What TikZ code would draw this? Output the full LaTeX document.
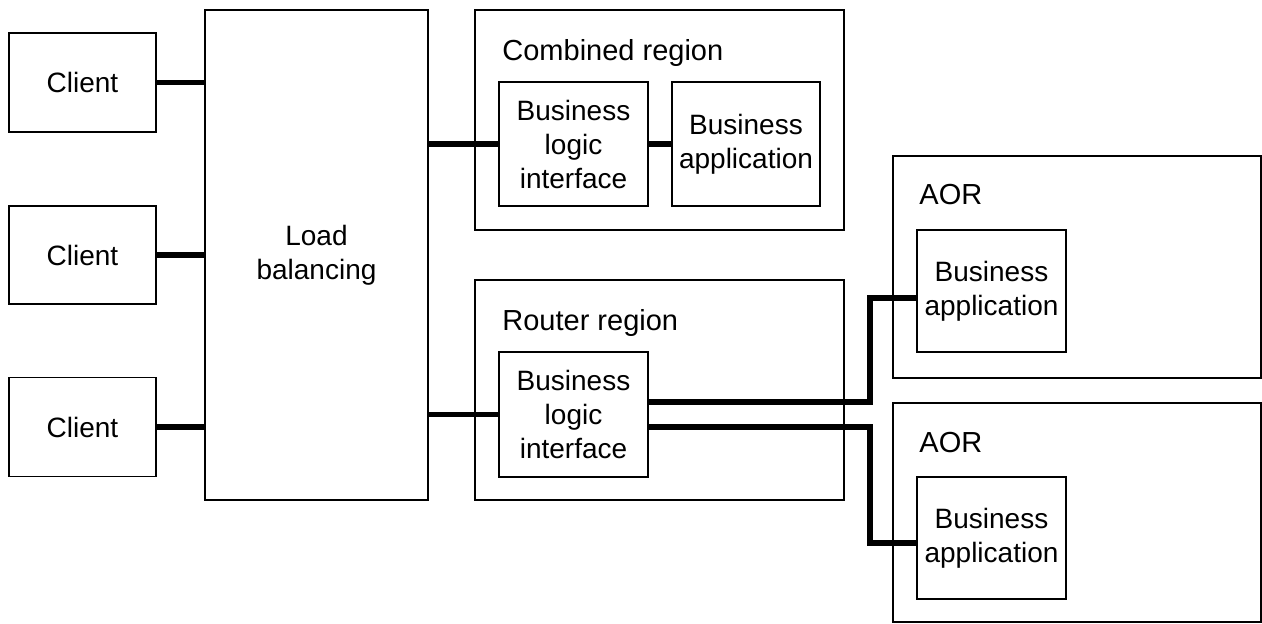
\documentclass[tikz,border=0pt]{standalone}
\usepackage{fontspec}
\setmainfont{Liberation Sans}
\usetikzlibrary{calc}
\tikzset{
  box/.style={draw, line width=0.75pt, inner sep=0pt, align=center,
    font=\fontsize{14}{17}\selectfont},
  lbl/.style={inner sep=0pt, anchor=base west, font=\fontsize{14.5}{17}\selectfont},
  link/.style={line width=2.6pt}
}
\newcommand{\bx}[5]{\node[box, minimum width=#3*0.5pt, minimum height=#4*0.5pt] (#1) at (#2) {#5};}
\begin{document}
\begin{tikzpicture}[x=0.5pt,y=-0.5pt]
\useasboundingbox (0,0) rectangle (1262,623);
% regions
\bx{comb}{659.5,120}{369}{220}{}
\bx{router}{659.5,390}{369}{220}{}
\bx{aor1}{1077,267}{368}{222}{}
\bx{aor2}{1077,512.5}{368}{219}{}
\node[lbl] (tcomb) at (502,60) {Combined region};
\node[lbl] (trouter) at (502,330) {Router region};
\node[lbl] (taor1) at (919,204) {AOR};
\node[lbl] (taor2) at (919,452) {AOR};
% boxes
\bx{c1}{82.5,82.5}{147}{99}{Client}
\bx{c2}{82.5,255}{147}{98}{Client}
\bx{c3}{82.5,427}{147}{99}{Client}
\bx{lb}{316.5,255}{223}{490}{Load\\balancing}
\bx{bli1}{573.5,144}{149}{124}{Business\\logic\\interface}
\bx{ba1}{746,144}{148}{124}{Business\\application}
\bx{bli2}{573.5,414.5}{149}{125}{Business\\logic\\interface}
\bx{ba2}{991.5,291}{149}{122}{Business\\application}
\bx{ba3}{991.5,538}{149}{122}{Business\\application}
% connectors
\draw[link] (c1.east) -- (c1.east -| lb.west);
\draw[link] (c2.east) -- (c2.east -| lb.west);
\draw[link] (c3.east) -- (c3.east -| lb.west);
\draw[link] (bli1.west -| lb.east) -- (bli1.west);
\draw[link] (bli1.east) -- (ba1.west);
\draw[link] (bli2.west -| lb.east) -- (bli2.west);
\coordinate (o1) at ($(bli2.east)+(0,-12.5)$);
\coordinate (o2) at ($(bli2.east)+(0,12.5)$);
\coordinate (i1) at ($(ba2.west)+(0,7)$);
\coordinate (i2) at ($(ba3.west)+(0,5)$);
\draw[link] (o1) -- (870,0 |- o1) -- (870,0 |- i1) -- (i1);
\draw[link] (o2) -- (870,0 |- o2) -- (870,0 |- i2) -- (i2);
\end{tikzpicture}
\end{document}
